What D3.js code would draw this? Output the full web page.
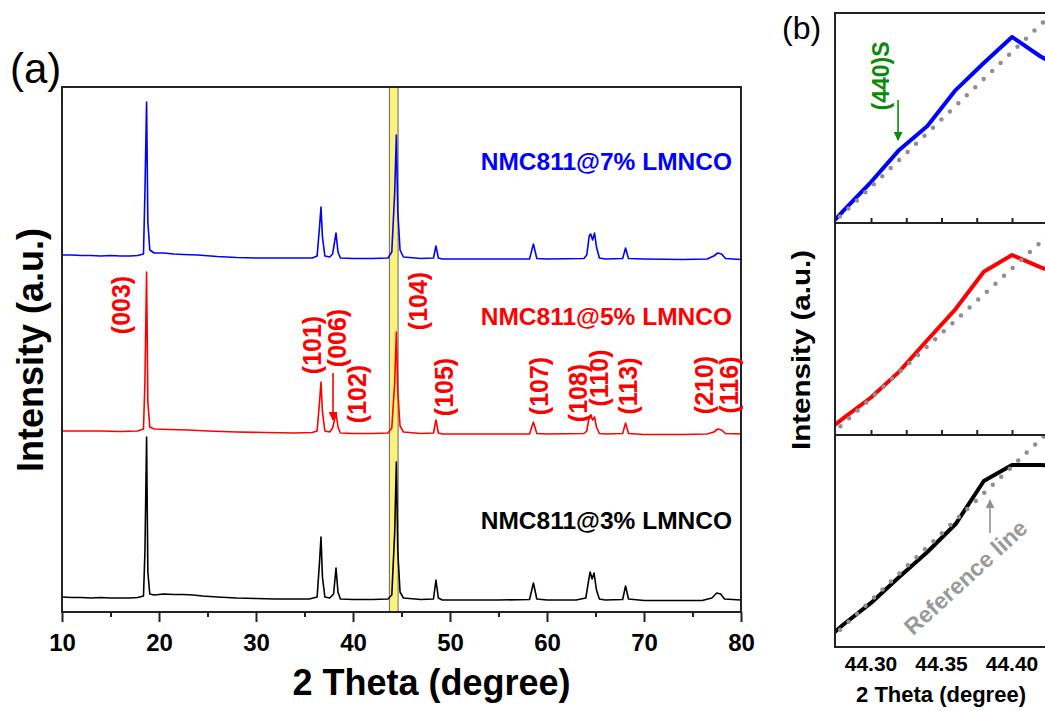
<!DOCTYPE html>
<html>
<head>
<meta charset="utf-8">
<script src="https://cdn.jsdelivr.net/npm/d3@7"></script>
<style>
  body { margin: 0; background: #fff; }
  text { font-family: "Liberation Sans", Arial, sans-serif; font-weight: bold; }
</style>
</head>
<body>
<svg id="chart" width="1045" height="711"></svg>
<script>
// ---- panel (a) data: [2theta, intensity a.u. (stacked)] ----
var black3 = [[10,15],[11,14.5],[12,14.5],[13,14],[14,14.5],[15,14],[16,14],[17,14],[17.8,14.5],[18.4,16],[18.55,60],[18.72,175],[18.85,40],[19.05,18],[19.5,17],[20.5,18],[21.5,17.5],[22.5,17.5],[23.5,17],[24.5,16],[26,15],[28,14],[30,13.5],[32,13],[34,13],[35.5,13],[36.3,15],[36.55,50],[36.7,75],[36.85,35],[37.1,15],[37.6,14],[38.0,18],[38.25,44],[38.45,20],[38.7,13],[40,12.5],[42,12.5],[43.6,13],[44.0,17],[44.3,80],[44.47,150],[44.62,60],[44.85,20],[45.2,14],[47,12.5],[48.3,13],[48.55,32],[48.8,14],[49.2,12],[52,12],[55,12],[58.2,12.5],[58.6,29],[58.95,13],[60,12],[63,12],[64.0,14],[64.3,32],[64.45,40],[64.65,33],[64.85,39],[65.1,22],[65.4,13],[66,12],[67.8,12.5],[68.1,26],[68.4,13],[70,11.5],[73,11.5],[76,11.5],[77,14],[77.5,19],[77.9,18],[78.3,13],[80,12]];
var red5 = [[10,181],[12,181],[14,181],[16,180.5],[17.8,181],[18.4,183],[18.55,230],[18.72,340],[18.85,210],[19.05,185],[19.5,183],[21,182.5],[23,182],[25,181],[28,180],[31,179.5],[34,179],[35.8,179.5],[36.3,181],[36.55,210],[36.7,230],[36.85,200],[37.1,181],[37.6,180],[37.9,184],[38.05,190],[38.25,199],[38.45,185],[38.7,179],[40,178.5],[42,178.5],[43.6,179],[44.0,184],[44.3,230],[44.47,280],[44.62,220],[44.85,186],[45.2,180],[47,178.5],[48.3,179],[48.55,192],[48.8,179],[49.2,178],[53,178],[58.2,178],[58.6,190],[58.95,178.5],[60,178],[63.8,178.5],[64.1,181],[64.35,195],[64.5,197],[64.7,192],[64.9,195],[65.1,185],[65.4,178.5],[66,178],[67.8,178.5],[68.1,189],[68.4,178.5],[70,177.5],[74,177.5],[76.5,178],[77.2,180],[77.6,183],[78,182],[78.4,178.5],[80,178]];
var blue7 = [[10,357],[11,357],[12,356.5],[13,356.5],[14,356],[15,356.5],[16,356],[17,356],[17.8,356.5],[18.4,358],[18.55,420],[18.72,510],[18.85,390],[19.05,362],[19.5,359],[20.5,359],[21.5,358],[22.5,357.5],[24,357],[26,355.5],[28,354.5],[30,354],[33,354],[35.8,354],[36.3,356],[36.55,385],[36.7,405],[36.85,375],[37.1,356],[37.6,355],[37.9,358],[38.25,379],[38.45,360],[38.7,354],[40,353.5],[42,353.5],[43.6,354],[44.0,360],[44.3,420],[44.47,477],[44.62,400],[44.85,362],[45.2,355],[47,353.5],[48.3,354],[48.55,366],[48.8,354],[49.2,353],[53,353],[58.2,353],[58.6,368],[58.95,353.5],[60,353],[63.8,353.5],[64.1,357],[64.35,376],[64.5,378],[64.7,372],[64.9,379],[65.1,365],[65.4,354],[66,353],[67.8,353.5],[68.1,364],[68.4,353.5],[70,353],[74,352.5],[76.5,353],[77.2,356],[77.6,359],[78,358],[78.4,353.5],[80,352.5]];

var seriesNames = ["NMC811@7% LMNCO", "NMC811@5% LMNCO", "NMC811@3% LMNCO"];
var seriesColors = ["#0000ff", "#ff0000", "#000000"];
var labelInt = [442, 287, 83]; // intensity where each series name sits
var xTicksMajor = [10, 20, 30, 40, 50, 60, 70, 80];
var xTicksMinor = [15, 25, 35, 45, 55, 65, 75];
var bandRange = [43.75, 44.65];

// hkl labels of the 5% pattern: text, 2theta, intensity
var hklText = ["(003)", "(101)", "(006)", "(102)", "(104)", "(105)", "(107)", "(108)", "(110)", "(113)", "(210)", "(116)"];
var hklTheta = [16.08, 35.77, 38.35, 40.41, 46.70, 49.38, 59.18, 63.20, 65.36, 68.35, 76.19, 78.76];
var hklInt = [307, 267, 274, 218, 311, 225, 226, 219, 234, 226, 227, 227];

// ---- panel (b) data: zoom on the (104) peak, percent of sub-panel height ----
var bTheta = [44.26, 44.28, 44.30, 44.32, 44.34, 44.36, 44.38, 44.40, 44.42, 44.44];
var bBlue = [-9, 5.5, 19.5, 34.8, 46.2, 63.3, 76.2, 88.6, 79.4, 72];
var bRed = [-2.5, 7.7, 17.7, 29.9, 44.8, 59.4, 77.0, 84.9, 79.2, 74];
var bBlack = [-1.4, 10.4, 20.8, 33.0, 44.8, 58.0, 78.3, 85.8, 85.8, 85.4];
var refTheta = [44.26, 44.44];
var refBlue = [-8.5, 107.1];
var refRed = [-7.1, 103.0];
var refBlack = [-3.3, 110.4];
var bTicksMajor = [44.30, 44.35, 44.40];
var bTicksAll = [44.30, 44.325, 44.35, 44.375, 44.40, 44.425];

var svg = d3.select("#chart");
var defs = svg.append("defs");

// ================= panel (a) =================
var L = 62, R = 741, T = 87, B = 612;
var x = d3.scaleLinear().domain([10, 80]).range([L, R]);
var y = d3.scaleLinear().domain([0, 525]).range([B, T]);

defs.append("clipPath").attr("id", "clipA")
    .append("rect").attr("x", L).attr("y", T).attr("width", R - L).attr("height", B - T);

svg.append("rect")
    .attr("x", x(bandRange[0])).attr("y", T)
    .attr("width", x(bandRange[1]) - x(bandRange[0])).attr("height", B - T)
    .attr("fill", "#faf27c").attr("stroke", "#666").attr("stroke-width", 1);

var line = d3.line().x(function (d) { return x(d[0]); }).y(function (d) { return y(d[1]); });
var gA = svg.append("g").attr("clip-path", "url(#clipA)");
[blue7, red5, black3].forEach(function (s, i) {
    gA.append("path").datum(s).attr("d", line)
        .attr("fill", "none").attr("stroke", seriesColors[i])
        .attr("stroke-width", 1.6).attr("stroke-linejoin", "round");
});

svg.append("rect").attr("x", L).attr("y", T).attr("width", R - L).attr("height", B - T)
    .attr("fill", "none").attr("stroke", "#222").attr("stroke-width", 2);

var axA = svg.append("g").attr("transform", "translate(0," + B + ")")
    .call(d3.axisBottom(x).tickValues(xTicksMajor).tickSize(10).tickFormat(d3.format("d")));
svg.append("g").attr("transform", "translate(0," + B + ")")
    .call(d3.axisBottom(x).tickValues(xTicksMinor).tickSize(5).tickFormat(""))
    .select(".domain").remove();
axA.select(".domain").remove();
svg.selectAll(".tick line").attr("stroke", "#222").attr("stroke-width", 2);
axA.selectAll(".tick text").attr("fill", "#000").attr("dy", "0").attr("y", 39)
    .style("font-size", "24px").style("font-family", "Liberation Sans, Arial, sans-serif");

svg.append("text").attr("x", (L + R) / 2 + 30).attr("y", 695).attr("text-anchor", "middle")
    .style("font-size", "36px").text("2 Theta (degree)");
svg.append("text").attr("transform", "translate(43,350) rotate(-90)").attr("text-anchor", "middle")
    .style("font-size", "36px").text("Intensity (a.u.)");
svg.append("text").attr("x", 10).attr("y", 83).style("font-size", "42px")
    .style("font-weight", "normal").text("(a)");

// series names
seriesNames.forEach(function (n, i) {
    svg.append("text").attr("x", 732).attr("y", y(labelInt[i])).attr("text-anchor", "end")
        .attr("fill", seriesColors[i]).style("font-size", "24.5px").text(n);
});

// hkl labels
svg.append("g").selectAll("text").data(hklText).join("text")
    .attr("transform", function (d, i) { return "translate(" + x(hklTheta[i]) + "," + y(hklInt[i]) + ") rotate(-90)"; })
    .attr("text-anchor", "middle").attr("dy", "0.36em")
    .attr("fill", "#ff0000").style("font-size", "25px").text(function (d) { return d; });

function arrowMarker(id, color) {
    defs.append("marker").attr("id", id).attr("viewBox", "0 0 10 10")
        .attr("refX", 9).attr("refY", 5).attr("markerWidth", 9).attr("markerHeight", 9)
        .attr("markerUnits", "userSpaceOnUse").attr("orient", "auto")
        .append("path").attr("d", "M0,0L10,5L0,10Z").attr("fill", color);
}
arrowMarker("arRed", "#ff0000");
arrowMarker("arGreen", "#0a8a0a");
arrowMarker("arGray", "#8f8f8f");

svg.append("line").attr("x1", x(37.94)).attr("x2", x(37.94)).attr("y1", y(239)).attr("y2", y(192))
    .attr("stroke", "#ff0000").attr("stroke-width", 1.6).attr("marker-end", "url(#arRed)");

// ================= panel (b) =================
var bL = 835;
var xb = d3.scaleLinear().domain([44.30, 44.40]).range([871, 1012]);
var subTop = [13, 223, 435], subBot = [223, 435, 647];
var bVals = [bBlue, bRed, bBlack], bRef = [refBlue, refRed, refBlack];

subTop.forEach(function (t, i) {
    var yb = d3.scaleLinear().domain([0, 100]).range([subBot[i], t]);
    defs.append("clipPath").attr("id", "clipB" + i)
        .append("rect").attr("x", bL).attr("y", t).attr("width", 1045 - bL).attr("height", subBot[i] - t);
    var g = svg.append("g").attr("clip-path", "url(#clipB" + i + ")");
    var lb = d3.line().x(function (d, k) { return xb(bTheta[k]); }).y(function (d) { return yb(d); });
    var lr = d3.line().x(function (d, k) { return xb(refTheta[k]); }).y(function (d) { return yb(d); });
    g.append("path").datum(bVals[i]).attr("d", lb).attr("fill", "none")
        .attr("stroke", seriesColors[i]).attr("stroke-width", 4).attr("stroke-linejoin", "round");
    g.append("path").datum(bRef[i]).attr("d", lr).attr("fill", "none")
        .attr("stroke", "#8f8f8f").attr("stroke-width", 4.5).attr("stroke-linecap", "round")
        .attr("stroke-dasharray", "0 11.7");
    // frame lines
    svg.append("line").attr("x1", bL).attr("x2", 1045).attr("y1", t).attr("y2", t)
        .attr("stroke", "#222").attr("stroke-width", 2);
    if (i < 2) {
        svg.append("g").attr("transform", "translate(0," + subBot[i] + ")")
            .call(d3.axisBottom(xb).tickValues(bTicksAll).tickSize(-5).tickFormat(""))
            .call(function (a) { a.select(".domain").remove(); a.selectAll("line").attr("stroke", "#222").attr("stroke-width", 2); });
    }
});
svg.append("line").attr("x1", bL).attr("x2", 1045).attr("y1", 647).attr("y2", 647)
    .attr("stroke", "#222").attr("stroke-width", 2);
svg.append("line").attr("x1", bL).attr("x2", bL).attr("y1", 12).attr("y2", 648)
    .attr("stroke", "#222").attr("stroke-width", 2);

svg.append("g").selectAll("text").data(bTicksMajor).join("text")
    .attr("x", function (d) { return xb(d); }).attr("y", 671).attr("text-anchor", "middle")
    .style("font-size", "21px").text(d3.format(".2f"));
svg.append("text").attr("x", 941).attr("y", 702).attr("text-anchor", "middle")
    .style("font-size", "22px").text("2 Theta (degree)");
svg.append("text").attr("transform", "translate(810,350) rotate(-90)").attr("text-anchor", "middle")
    .style("font-size", "26px").attr("textLength", 200).attr("lengthAdjust", "spacingAndGlyphs")
    .text("Intensity (a.u.)");
svg.append("text").attr("x", 782).attr("y", 39).style("font-size", "32px")
    .style("font-weight", "normal").text("(b)");

// (440)S annotation, top sub-panel
var ybTop = d3.scaleLinear().domain([0, 100]).range([subBot[0], subTop[0]]);
svg.append("text").attr("transform", "translate(" + xb(44.307) + "," + ybTop(70) + ") rotate(-90)")
    .attr("text-anchor", "middle").attr("dy", "0.36em").attr("fill", "#0a8a0a")
    .style("font-size", "23px").text("(440)S");
svg.append("line").attr("x1", xb(44.3192)).attr("x2", xb(44.3192))
    .attr("y1", ybTop(58.6)).attr("y2", ybTop(39.5))
    .attr("stroke", "#0a8a0a").attr("stroke-width", 1.6).attr("marker-end", "url(#arGreen)");

// Reference line annotation, bottom sub-panel
var ybBot = d3.scaleLinear().domain([0, 100]).range([subBot[2], subTop[2]]);
svg.append("text").attr("transform", "translate(" + xb(44.367) + "," + ybBot(33) + ") rotate(-42.5)")
    .attr("text-anchor", "middle").attr("dy", "0.36em").attr("fill", "#999")
    .style("font-size", "23px").text("Reference line");
svg.append("line").attr("x1", xb(44.3844)).attr("x2", xb(44.3844))
    .attr("y1", ybBot(53.8)).attr("y2", ybBot(69.3))
    .attr("stroke", "#8f8f8f").attr("stroke-width", 1.6).attr("marker-end", "url(#arGray)");
</script>
</body>
</html>
